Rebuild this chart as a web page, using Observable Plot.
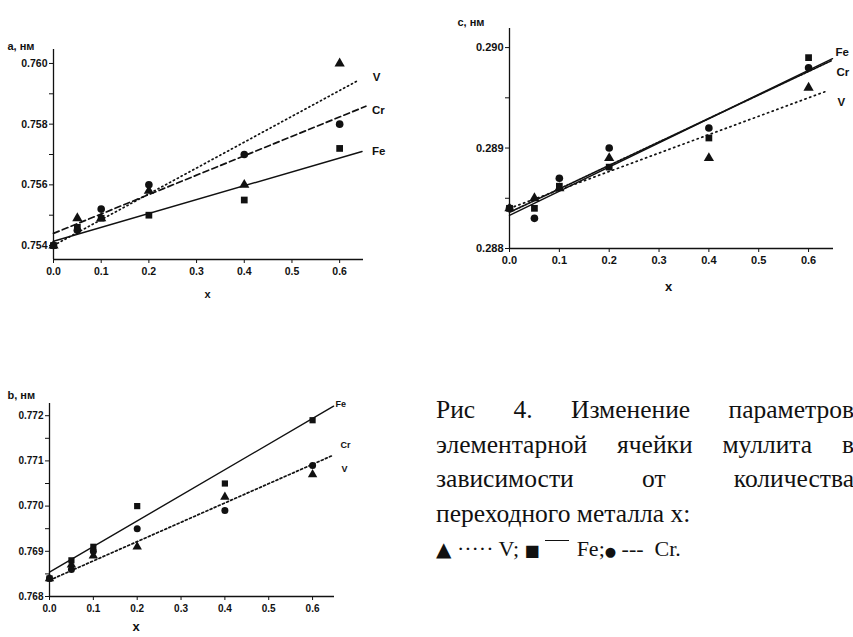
<!DOCTYPE html>
<html>
<head>
<meta charset="utf-8">
<script src="https://cdn.jsdelivr.net/npm/d3@7"></script>
<script src="https://cdn.jsdelivr.net/npm/@observablehq/plot@0.6"></script>
<style>
  body { margin: 0; background: #fff; }
  #page { position: relative; width: 853px; height: 637px; overflow: hidden; background: #fff; }
  .panel { position: absolute; }
  #caption { position: absolute; left: 436px; top: 393px; width: 418px; font-family: "Liberation Serif", "DejaVu Serif", serif; font-size: 25.5px; line-height: 34.7px; color: #111; }
  #caption .j { text-align: justify; text-align-last: justify; }
  #legend { white-space: nowrap; font-size: 22px; }
  .ln { display: inline-block; width: 24px; border-top: 1.6px solid #111; vertical-align: 15px; margin: 0 8px 0 5px; }
  .sym { font-family: "DejaVu Sans", sans-serif; }
</style>
</head>
<body>
<div id="page">
  <div id="pa" class="panel" style="left:0;top:0"></div>
  <div id="pc" class="panel" style="left:430px;top:0"></div>
  <div id="pb" class="panel" style="left:0;top:380px"></div>
  <div id="caption">
    <div class="j">Рис 4. Изменение параметров</div>
    <div class="j">элементарной ячейки муллита в</div>
    <div class="j">зависимости от количества</div>
    <div>переходного металла х:</div>
    <div id="legend"><span class="sym" style="font-size:20px">▲</span> ····· V; <span class="sym" style="font-size:16px">■</span><span class="ln"></span>Fe;<span class="sym" style="font-size:13px">●</span> --- &nbsp;Cr.</div>
  </div>
</div>
<script>
// ---- data ----
const series = ["V", "Fe", "Cr"];
const xs = [0, 0.05, 0.1, 0.2, 0.4, 0.6];
const xTicks = [0, 0.1, 0.2, 0.3, 0.4, 0.5, 0.6];

// panel a
const aV  = [0.7540, 0.7549, 0.7549, 0.7558, 0.7560, 0.7600];
const aFe = [0.7540, 0.7546, 0.7549, 0.7550, 0.7555, 0.7572];
const aCr = [0.7540, 0.7545, 0.7552, 0.7560, 0.7570, 0.7580];
const aFitEndX  = [0.640, 0.647, 0.655];      // V, Fe, Cr
const aFitStart = [0.75400, 0.75414, 0.75440];
const aFitEnd   = [0.75945, 0.75710, 0.75859];
const aYTicks = [0.754, 0.755, 0.756, 0.757, 0.758, 0.759, 0.760];

// panel c
const cV  = [0.2884, 0.2885, 0.2886, 0.2889, 0.2889, 0.2896];
const cFe = [0.2884, 0.2884, 0.28862, 0.28881, 0.2891, 0.2899];
const cCr = [0.2884, 0.2883, 0.2887, 0.2890, 0.2892, 0.2898];
const cFitEndX  = [0.638, 0.648, 0.646];
const cFitStart = [0.28840, 0.28833, 0.28836];
const cFitEnd   = [0.28957, 0.28989, 0.28987];
const cYTicks = [0.288, 0.2885, 0.289, 0.2895, 0.290];

// panel b
const bV  = [0.7684, 0.7687, 0.7689, 0.7691, 0.7702, 0.7707];
const bFe = [0.7684, 0.7688, 0.7691, 0.7700, 0.7705, 0.7719];
const bCr = [0.7684, 0.7686, 0.7690, 0.7695, 0.7699, 0.7709];
const bFitEndX  = [0.648, 0.648, 0.648];   // V and Cr share one dotted line
const bFitStart = [0.76836, 0.76854, 0.76836];
const bFitEnd   = [0.77113, 0.77221, 0.77113];
const bYTicks = [0.768, 0.7685, 0.769, 0.7695, 0.770, 0.7705, 0.771, 0.7715, 0.772];

const yLabels = {a: "a, нм", b: "b, нм", c: "c, нм"};
const xLabel = "x";

// ---- drawing ----
function rowsOf(vals) {
  const out = [];
  series.forEach((s, i) => vals[i].forEach((y, j) => out.push({s, x: xs[j], y})));
  return out;
}
function fitRows(endX, start, end) {
  return series.map((s, i) => [{s, x: 0, y: start[i]}, {s, x: endX[i], y: end[i]}]);
}

function panel(cfg) {
  const pts = rowsOf(cfg.vals);
  const fits = fitRows(cfg.fitEndX, cfg.fitStart, cfg.fitEnd);
  const marks = [
    Plot.ruleX([0], {stroke: "#111", strokeWidth: 1.3}),
    Plot.ruleY([cfg.yDomain[0]], {stroke: "#111", strokeWidth: 1.3}),
  ];
  cfg.lineSeries.forEach(s => {
    const i = series.indexOf(s);
    marks.push(Plot.line(fits[i], {x: "x", y: "y", stroke: "#111", strokeWidth: s === "Fe" ? 1.4 : 1.7,
      strokeDasharray: cfg.dash[s] || undefined}));
  });
  marks.push(Plot.dot(pts, {x: "x", y: "y", symbol: "s", fill: "#111", stroke: "none", r: cfg.r}));
  cfg.labels.forEach(l => {
    const i = series.indexOf(l.anchor);
    marks.push(Plot.text([l.text], {x: () => cfg.fitEndX[i], y: () => cfg.fitEnd[i], text: d => d,
      dx: l.dx, dy: l.dy, textAnchor: "start", fontSize: cfg.labelSize, fontWeight: "bold", fill: "#111"}));
  });
  marks.push(Plot.text([cfg.yLabel], {frameAnchor: "top-left", dx: cfg.ylx, dy: cfg.yly, text: d => d,
    textAnchor: "start", fontSize: 11, fontWeight: "bold", fill: "#111"}));
  marks.push(Plot.text([xLabel], {frameAnchor: "bottom", dx: cfg.xlx, dy: cfg.xly, text: d => d,
    fontSize: cfg.xSize, fontWeight: "bold", fill: "#111"}));
  return Plot.plot({
    width: cfg.width, height: cfg.height,
    marginLeft: cfg.ml, marginRight: cfg.mr, marginTop: cfg.mt, marginBottom: cfg.mb,
    style: {fontFamily: "'Liberation Sans', Arial, sans-serif", fontSize: cfg.tickSize, fontWeight: "bold", color: "#111", background: "transparent", overflow: "visible"},
    x: {domain: [0, 0.65], ticks: xTicks, tickFormat: d3.format(".1f"), tickSize: 4, label: null, tickPadding: 4},
    y: {domain: cfg.yDomain, ticks: cfg.yTicks, tickSize: 4, label: null, tickPadding: 2,
        tickFormat: d => cfg.majorY.some(m => Math.abs(m - d) < 1e-9) ? d3.format(".3f")(d) : ""},
    symbol: {domain: series, range: ["triangle", "square", "circle"]},
    marks
  });
}

document.getElementById("pa").append(panel({
  vals: [aV, aFe, aCr], fitEndX: aFitEndX, fitStart: aFitStart, fitEnd: aFitEnd,
  width: 400, height: 310, ml: 53, mr: 37, mt: 49, mb: 51,
  yDomain: [0.75354, 0.76046], yTicks: aYTicks, majorY: [0.754, 0.756, 0.758, 0.760],
  lineSeries: ["V", "Fe", "Cr"], dash: {V: "1.2,3.2", Fe: null, Cr: "6,3.5"}, r: 3.8,
  labels: [{text: "V", anchor: "V", dx: 14, dy: -3}, {text: "Cr", anchor: "Cr", dx: 6, dy: 4}, {text: "Fe", anchor: "Fe", dx: 10, dy: 0}],
  labelSize: 11.5, tickSize: "10.5px", yLabel: yLabels.a, ylx: -46, yly: -7, xlx: -1, xly: 38, xSize: 11
}));

document.getElementById("pc").append(panel({
  vals: [cV, cFe, cCr], fitEndX: cFitEndX, fitStart: cFitStart, fitEnd: cFitEnd,
  width: 423, height: 310, ml: 79, mr: 20, mt: 28, mb: 62,
  yDomain: [0.288, 0.29019], yTicks: cYTicks, majorY: [0.288, 0.289, 0.290],
  lineSeries: ["V", "Fe", "Cr"], dash: {V: "1.2,3.8", Fe: null, Cr: "2,1.5"}, r: 3.8,
  labels: [{text: "Fe", anchor: "Fe", dx: 3, dy: -6}, {text: "Cr", anchor: "Cr", dx: 5, dy: 12}, {text: "V", anchor: "V", dx: 10, dy: 12}],
  labelSize: 11.5, tickSize: "11px", yLabel: yLabels.c, ylx: -52, yly: -10, xlx: -3, xly: 42, xSize: 13
}));

document.getElementById("pb").append(panel({
  vals: [bV, bFe, bCr], fitEndX: bFitEndX, fitStart: bFitStart, fitEnd: bFitEnd,
  width: 400, height: 257, ml: 49, mr: 66, mt: 23, mb: 41,
  yDomain: [0.768, 0.77227], yTicks: bYTicks, majorY: [0.768, 0.769, 0.770, 0.771, 0.772],
  lineSeries: ["V", "Fe"], dash: {V: "2,2.5", Fe: null, Cr: null}, r: 3.5,
  labels: [{text: "Fe", anchor: "Fe", dx: 2, dy: -2}, {text: "Cr", anchor: "V", dx: 7, dy: -10}, {text: "V", anchor: "V", dx: 8, dy: 14}],
  labelSize: 9, tickSize: "10px", yLabel: yLabels.b, ylx: -42, yly: -12, xlx: -56, xly: 34, xSize: 13
}));
</script>
</body>
</html>
